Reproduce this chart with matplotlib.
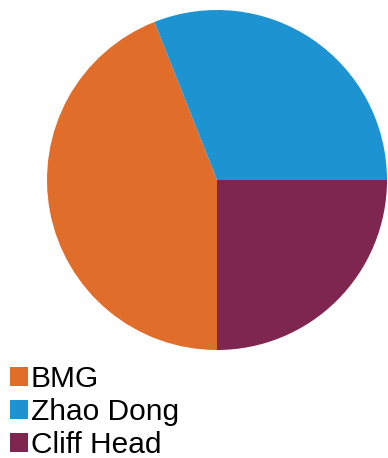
import matplotlib.pyplot as plt
from matplotlib.patches import Patch

# Share by field
fields = ['BMG', 'Zhao Dong', 'Cliff Head']
shares = [44, 31, 25]
colors = ['#E06D29', '#1E93D2', '#7E2550']

plt.rcParams['font.family'] = ['Liberation Sans', 'DejaVu Sans']

fig = plt.figure(figsize=(3.88, 4.58), dpi=100)
ax = fig.add_axes([47 / 388, 108 / 458, 340 / 388, 340 / 458])
ax.pie(shares, colors=colors, startangle=270, counterclock=False,
       wedgeprops=dict(linewidth=0))
ax.set_xlim(-1, 1)
ax.set_ylim(-1, 1)
ax.set_aspect('equal')

handles = [Patch(facecolor=c, edgecolor='none') for c in colors]
fig.legend(handles, fields, loc='upper left',
           bbox_to_anchor=(10 / 388, 93 / 458),
           frameon=False, fontsize=21.5, handlelength=0.6, handleheight=0.6,
           handletextpad=0.1, labelspacing=0.17, borderpad=0.0,
           borderaxespad=0.0)

fig.savefig('out.png', dpi=100)
